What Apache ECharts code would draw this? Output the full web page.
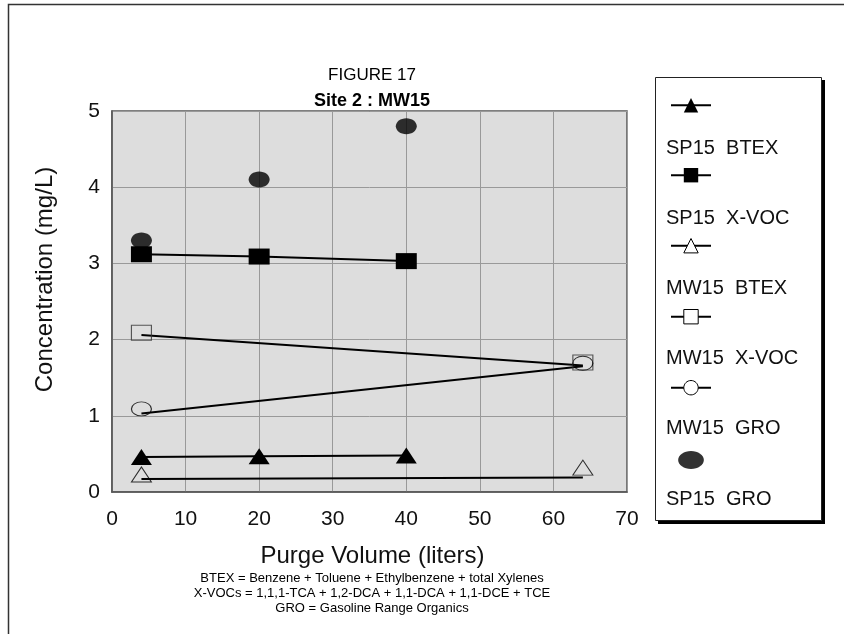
<!DOCTYPE html>
<html>
<head>
<meta charset="utf-8">
<script src="https://cdn.jsdelivr.net/npm/echarts@6/dist/echarts.min.js"></script>
<style>
  html, body { margin: 0; padding: 0; background: #fff; }
  #chart { width: 844px; height: 634px; }
</style>
</head>
<body>
<div id="chart"></div>
<script>
// Purge-volume sampling results, Site 2 well MW15 and sample point SP15
const seriesNames = ['SP15  BTEX', 'SP15  X-VOC', 'MW15  BTEX', 'MW15  X-VOC', 'MW15  GRO', 'SP15  GRO'];

const sp15Volume = [4, 20, 40];      // liters purged
const mw15Volume = [4, 64];

const sp15Btex = [0.46, 0.47, 0.48]; // mg/L
const sp15Xvoc = [3.12, 3.09, 3.03];
const sp15Gro  = [3.30, 4.10, 4.80];

const mw15Btex      = [0.23, 0.32];
const mw15BtexTrend = [0.17, 0.19];
const mw15Xvoc      = [2.09, 1.70];
const mw15XvocTrend = [2.06, 1.66];
const mw15Gro       = [1.09, 1.69];
const mw15GroTrend  = [1.03, 1.65];

const footnotes = [
  'BTEX = Benzene + Toluene + Ethylbenzene + total Xylenes',
  'X-VOCs = 1,1,1-TCA + 1,2-DCA + 1,1-DCA + 1,1-DCE + TCE',
  'GRO = Gasoline Range Organics'
];

const FONT = '"Liberation Sans", Arial, Helvetica, sans-serif';
// ellipse outline built from cubic curves, 20 x 14 units
const ELLIPSE = 'path://M0,7C0,3.13 4.48,0 10,0C15.52,0 20,3.13 20,7C20,10.87 15.52,14 10,14C4.48,14 0,10.87 0,7Z';
const pair = (xs, ys) => xs.map((x, i) => [x, ys[i]]);

const solid = { color: '#000' };
const hollow = { color: 'rgba(0,0,0,0)', borderColor: '#000', borderWidth: 1 };
const hollowLegend = { color: '#fff', borderColor: '#000', borderWidth: 1 };
const lineStyle = { color: '#000', width: 2 };

const chart = echarts.init(document.getElementById('chart'), null, { renderer: 'canvas' });

chart.setOption({
  animation: false,
  backgroundColor: '#fff',
  textStyle: { fontFamily: FONT },
  grid: {
    left: 112, top: 111, right: 217, bottom: 142,
    show: true, backgroundColor: '#dddddd', borderColor: '#555', borderWidth: 1.5
  },
  xAxis: {
    type: 'value', min: 0, max: 70, interval: 10,
    name: 'Purge Volume (liters)', nameLocation: 'middle', nameGap: 52,
    nameTextStyle: { fontFamily: FONT, fontSize: 24, color: '#111', padding: [0, 0, 0, 6] },
    axisLine: { show: true, lineStyle: { color: '#555', width: 1.5 } },
    axisTick: { show: false },
    axisLabel: { fontFamily: FONT, fontSize: 21, color: '#111', margin: 17 },
    splitLine: { show: true, lineStyle: { color: '#999', width: 1 } }
  },
  yAxis: {
    type: 'value', min: 0, max: 5, interval: 1,
    name: 'Concentration (mg/L)', nameLocation: 'middle', nameGap: 55,
    // shifted toward the top of the axis
    nameTextStyle: { fontFamily: FONT, fontSize: 24, color: '#111', padding: [0, 0, 0, 44] },
    axisLine: { show: true, lineStyle: { color: '#555', width: 1.5 } },
    axisTick: { show: false },
    axisLabel: { fontFamily: FONT, fontSize: 21, color: '#111', margin: 12 },
    splitLine: { show: true, lineStyle: { color: '#999', width: 1 } }
  },
  legend: [
    {
      // symbol column
      orient: 'vertical', left: 665, top: 93,
      itemWidth: 40, itemHeight: 18, itemGap: 55.6,
      selectedMode: false,
      formatter: () => '',
      textStyle: { fontSize: 8, lineHeight: 8 },
      data: [
        { name: seriesNames[0] },
        { name: seriesNames[1] },
        { name: seriesNames[2], itemStyle: hollowLegend },
        { name: seriesNames[3], itemStyle: hollowLegend },
        { name: seriesNames[4], itemStyle: hollowLegend },
        { name: seriesNames[5] }
      ]
    },
    {
      // label column, each name sits below its symbol
      orient: 'vertical', left: 656, top: 133,
      icon: 'none', itemWidth: 0, itemHeight: 10, itemGap: 50.2,
      selectedMode: false,
      textStyle: { fontFamily: FONT, fontSize: 20, lineHeight: 20, color: '#111' },
      data: seriesNames
    }
  ],
  graphic: [
    { type: 'rect', z: -10, silent: true,
      shape: { x: 8.5, y: 4.5, width: 1000, height: 1000 },
      style: { fill: 'none', stroke: '#333', lineWidth: 1.5 } },
    { type: 'rect', z: -5, silent: true,
      shape: { x: 658, y: 80, width: 167, height: 444 },
      style: { fill: '#000' } },
    { type: 'rect', z: -4, silent: true,
      shape: { x: 655.5, y: 77.5, width: 166, height: 443 },
      style: { fill: '#fff', stroke: '#222', lineWidth: 1 } },
    { type: 'text', silent: true, x: 372, y: 75,
      style: { text: 'FIGURE 17', font: '17px ' + FONT, fill: '#000',
               textAlign: 'center', textVerticalAlign: 'middle' } },
    { type: 'text', silent: true, x: 372, y: 101,
      style: { text: 'Site 2 : MW15', font: 'bold 18px ' + FONT, fill: '#000',
               textAlign: 'center', textVerticalAlign: 'middle' } },
    { type: 'text', silent: true, x: 372, y: 571,
      style: { text: footnotes.join('\n'), font: '13px ' + FONT, lineHeight: 15,
               fill: '#000', textAlign: 'center', textVerticalAlign: 'top' } }
  ],
  series: [
    { name: seriesNames[0], type: 'line', data: pair(sp15Volume, sp15Btex),
      symbol: 'triangle', symbolSize: [21, 16], showSymbol: true,
      lineStyle, itemStyle: solid, emphasis: { disabled: true }, z: 3 },
    { name: seriesNames[1], type: 'line', data: pair(sp15Volume, sp15Xvoc),
      symbol: 'rect', symbolSize: [21, 16], showSymbol: true,
      lineStyle, itemStyle: solid, emphasis: { disabled: true }, z: 3 },

    { name: seriesNames[2], type: 'line', data: pair(mw15Volume, mw15BtexTrend),
      symbol: 'triangle', showSymbol: false,
      lineStyle, itemStyle: hollowLegend, emphasis: { disabled: true }, z: 2 },
    { name: seriesNames[2], type: 'scatter', data: pair(mw15Volume, mw15Btex),
      symbol: 'triangle', symbolSize: [20, 15],
      itemStyle: hollow, emphasis: { disabled: true }, z: 3 },

    { name: seriesNames[3], type: 'line', data: pair(mw15Volume, mw15XvocTrend),
      symbol: 'rect', showSymbol: false,
      lineStyle, itemStyle: hollowLegend, emphasis: { disabled: true }, z: 2 },
    { name: seriesNames[3], type: 'scatter', data: pair(mw15Volume, mw15Xvoc),
      symbol: 'rect', symbolSize: [20, 15],
      itemStyle: { color: 'rgba(0,0,0,0)', borderColor: '#333', borderWidth: 1 },
      emphasis: { disabled: true }, z: 3 },

    { name: seriesNames[4], type: 'line', data: pair(mw15Volume, mw15GroTrend),
      symbol: ELLIPSE, showSymbol: false,
      lineStyle, itemStyle: hollowLegend, emphasis: { disabled: true }, z: 2 },
    { name: seriesNames[4], type: 'scatter', data: pair(mw15Volume, mw15Gro),
      symbol: ELLIPSE, symbolSize: [20, 14],
      itemStyle: hollow, emphasis: { disabled: true }, z: 3 },

    { name: seriesNames[5], type: 'scatter', data: pair(sp15Volume, sp15Gro),
      symbol: ELLIPSE, symbolSize: [21, 16],
      itemStyle: solid, emphasis: { disabled: true }, z: 3 }
  ]
});
</script>
</body>
</html>
